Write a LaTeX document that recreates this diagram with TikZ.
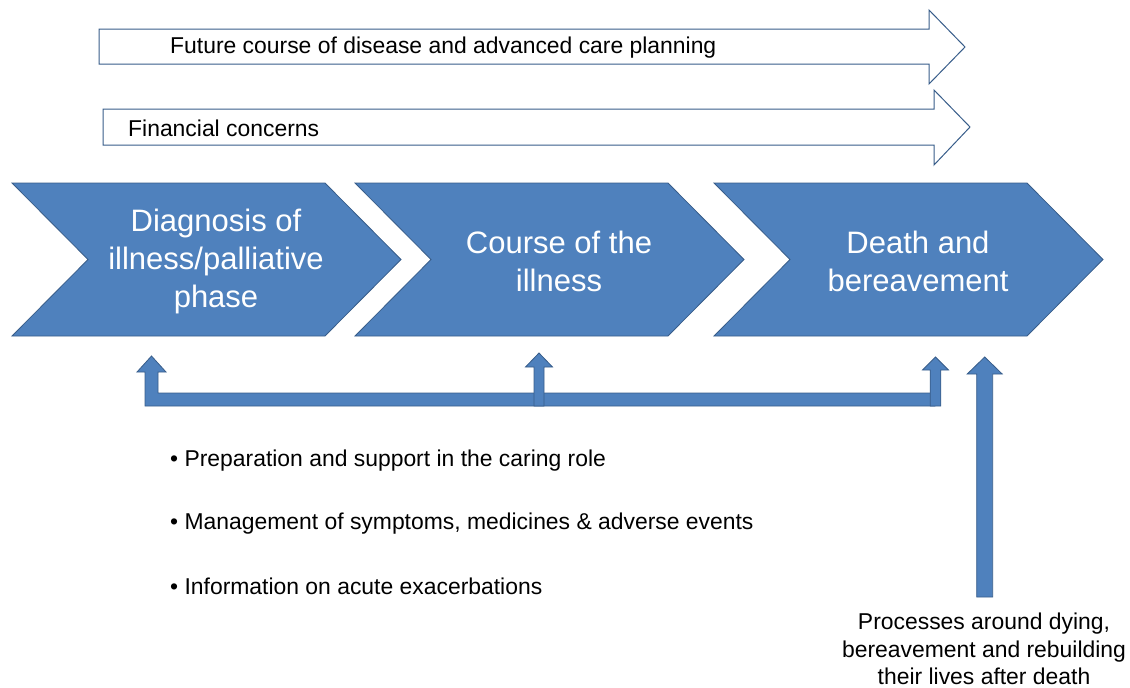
\documentclass[tikz,border=0pt]{standalone}
\usepackage{fontspec}
\setmainfont{Liberation Sans}
\definecolor{phaseblue}{HTML}{4F81BD}
\definecolor{phaseline}{HTML}{385D8A}

% block arrow pointing up: x centre, tip y, bottom y, shaft half width, head half width, head length
\newcommand\upblock[6]{%
  \draw[blockarrow] (#1-#4,#3) -- (#1-#4,#2+#6) -- (#1-#5,#2+#6) -- (#1,#2)
    -- (#1+#5,#2+#6) -- (#1+#4,#2+#6) -- (#1+#4,#3) -- cycle;}

\tikzset{
  chevron/.style={fill=phaseblue, draw=phaseline, line width=0.8pt},
  blockarrow/.style={fill=phaseblue, draw=phaseline, line width=0.8pt},
  bandarrow/.style={fill=white, draw=phaseline, line width=1pt},
  phasetext/.style={text=white, align=center, inner sep=0pt, font=\fontsize{31}{38}\selectfont},
  plaintext/.style={inner sep=0pt, font=\fontsize{22.9}{27.5}\selectfont},
}

\begin{document}
\begin{tikzpicture}[x=1pt, y=-1pt]
  \useasboundingbox (0,0) rectangle (1130,688);

  % long band arrows on top
  \draw[bandarrow] (99,29) -- (929,29) -- (929,10) -- (965,47) -- (929,84) -- (929,64) -- (99,64) -- cycle;
  \draw[bandarrow] (103,109) -- (934,109) -- (934,90) -- (970,127) -- (934,165) -- (934,145) -- (103,145) -- cycle;
  \node[plaintext, anchor=west] (future) at (170,48) {Future course of disease and advanced care planning};
  \node[plaintext, anchor=west] (money) at (128,128) {Financial concerns};

  % the three phases
  \foreach \x/\name/\label in {12/diag/{Diagnosis of\\illness/palliative\\phase},
                               355/course/{Course of the\\illness},
                               714/death/{Death and\\bereavement}} {
    \draw[chevron] (\x,183) -- ++(313,0) -- ++(76,76.5) -- ++(-76,76.5) -- ++(-313,0) -- ++(76,-76.5) -- cycle;
    \node[phasetext] (\name) at (\x+204,261) {\label};
  }

  % support bracket under the phases
  \draw[blockarrow] (145,406) -- (145,372) -- (137,372) -- (151.5,356) -- (166,372) -- (158,372)
    -- (158,393) -- (935,393) -- (935,406) -- cycle;
  \upblock{539}{353}{406}{5}{13.5}{14}
  \upblock{935.5}{357}{406}{5.3}{13}{13}

  % after death
  \upblock{984.7}{357}{597}{8}{17.5}{17}

  \node[plaintext, anchor=west] (prep) at (170,461) {• Preparation and support in the caring role};
  \node[plaintext, anchor=west] (symptoms) at (170,524) {• Management of symptoms, medicines \& adverse events};
  \node[plaintext, anchor=west] (acute) at (170,586) {• Information on acute exacerbations};

  \node[plaintext, align=center] (rebuild) at (984,649) {Processes around dying,\\bereavement and rebuilding\\their lives after death};
\end{tikzpicture}
\end{document}
